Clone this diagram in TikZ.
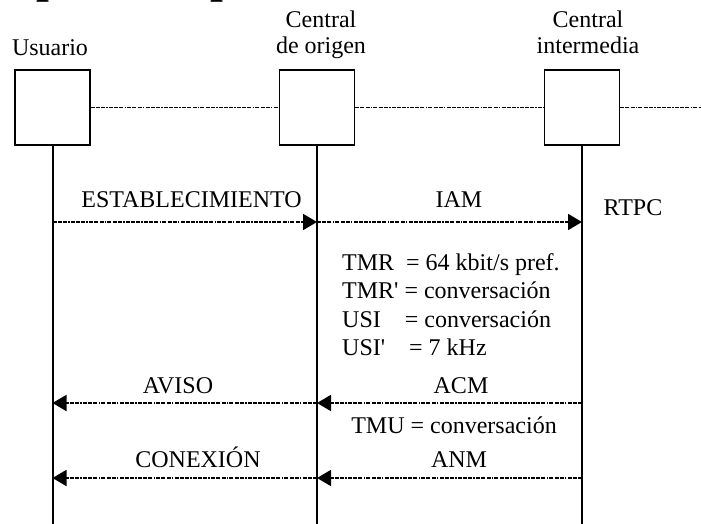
\documentclass[tikz,border=0pt]{standalone}
\usepackage{fontspec}
\setmainfont{Liberation Serif}[Ligatures=TeXOff]
\usetikzlibrary{arrows.meta}
\begin{document}
\begin{tikzpicture}[x=1pt,y=-1pt,
  txt/.style={font=\fontsize{24}{28.5}\selectfont, inner sep=0pt, anchor=base},
  txtl/.style={txt, anchor=base west},
  ent/.style={draw, line width=1.3pt, minimum width=75pt, minimum height=75pt, inner sep=0pt},
  life/.style={line width=2pt},
  dd/.style={line width=1.8pt, dash pattern=on 4pt off 1.2pt on 4pt off 1.2pt on 4pt off 1.2pt on 1.5pt off 1.2pt},
  msg/.style={dd, -{Triangle[length=14pt,width=16pt]}}]
\useasboundingbox (0,0) rectangle (701,524);
% clipped title fragments at the top edge
\begin{scope}
  \clip (0,0) rectangle (701,3.5);
  \node[font=\bfseries\fontsize{46}{50}\selectfont, inner sep=0pt, anchor=base west] (f1) at (36,-7) {p};
  \node[font=\bfseries\fontsize{46}{50}\selectfont, inner sep=0pt, anchor=base west] (f2) at (210,-7) {p};
\end{scope}
% entities
\node[ent] (u) at (52.5,107.5) {};
\node[ent] (o) at (317,107.5) {};
\node[ent] (m) at (582,107.5) {};
\node[txt] (hu) at (50,56) {Usuario};
\node[txt] (ho1) at (321,28) {Central};
\node[txt] (ho2) at (321,54) {de origen};
\node[txt] (hm1) at (588,28) {Central};
\node[txt] (hm2) at (588,54) {intermedia};
% links between boxes
\coordinate (me) at (701,107.5);
\draw[dd] (u.east) -- (o.west);
\draw[dd] (o.east) -- (m.west);
\draw[dd] (m.east) -- (me);
% lifelines
\coordinate (ue) at (52.5,524);
\coordinate (oe) at (317,524);
\coordinate (mee) at (582,524);
\draw[life] (u.south) -- (ue);
\draw[life] (o.south) -- (oe);
\draw[life] (m.south) -- (mee);
% message points
\coordinate (u1) at (52.5,222); \coordinate (o1) at (317,222); \coordinate (m1) at (582,222);
\coordinate (u2) at (52.5,403); \coordinate (o2) at (317,403); \coordinate (m2) at (582,403);
\coordinate (u3) at (52.5,478); \coordinate (o3) at (317,478); \coordinate (m3) at (582,478);
\draw[msg] (u1) -- (o1);
\draw[msg] (o1) -- (m1);
\draw[msg] (o2) -- (u2);
\draw[msg] (m2) -- (o2);
\draw[msg] (o3) -- (u3);
\draw[msg] (m3) -- (o3);
% labels
\node[txt] (l1) at (191.5,207) {ESTABLECIMIENTO};
\node[txt] (l2) at (459,207) {IAM};
\node[txt] (l3) at (633,215) {RTPC};
\node[txtl] (p1) at (342,270) {TMR\ \ = 64 kbit/s pref.};
\node[txtl] (p2) at (342,298.5) {TMR' = conversación};
\node[txtl] (p3) at (342,327) {USI\ \ \ \ = conversación};
\node[txtl] (p4) at (342,355) {USI'\ \ \ \ = 7 kHz};
\node[txt] (l4) at (178,393) {AVISO};
\node[txt] (l5) at (461,393) {ACM};
\node[txt] (l6) at (454,433) {TMU = conversación};
\node[txt] (l7) at (198,467) {CONEXIÓN};
\node[txt] (l8) at (459,467) {ANM};
\end{tikzpicture}
\end{document}
